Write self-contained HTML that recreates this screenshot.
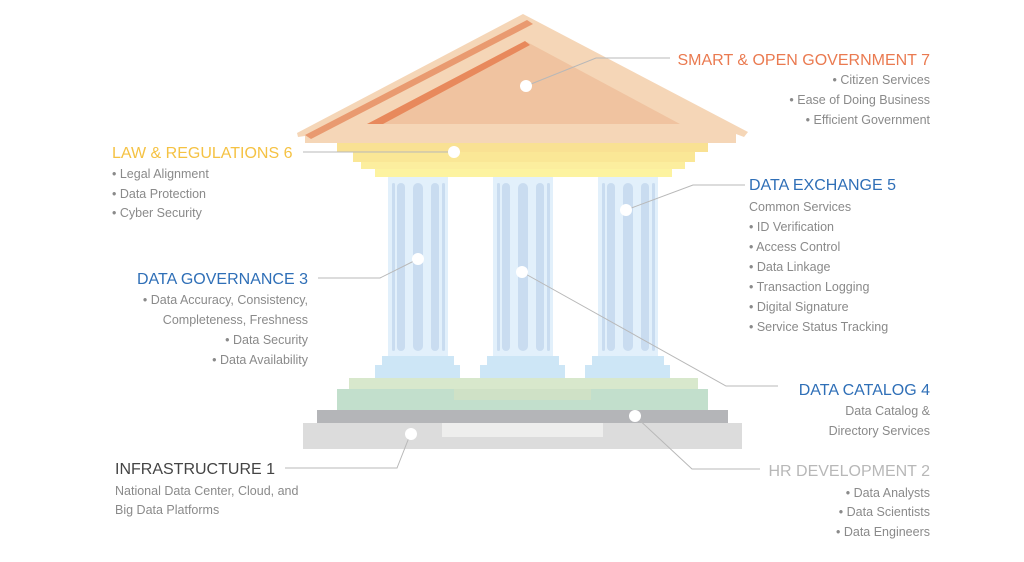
<!DOCTYPE html>
<html><head><meta charset="utf-8"><style>
html,body{margin:0;padding:0;background:#fff;}
svg{display:block;font-family:"Liberation Sans",sans-serif;}
.b{font-size:12.5px;fill:#8a8a8a;}
.h{font-size:16px;}
</style></head><body>
<svg width="1024" height="562" viewBox="0 0 1024 562" xmlns="http://www.w3.org/2000/svg">
<!-- base -->
<rect x="303" y="423" width="439" height="26" fill="#dcdcdc"/>
<rect x="442" y="423" width="161" height="14" fill="#eeeeed"/>
<rect x="317" y="410" width="411" height="13" fill="#b4b5b8"/>
<rect x="337" y="389" width="371" height="21" fill="#c2dfcc"/>
<rect x="454" y="389" width="137" height="11" fill="#cfe1c6"/>
<rect x="349" y="378" width="349" height="11" fill="#d8e8cc"/>
<!-- columns -->
<g id="c">
<rect x="388" y="176" width="60" height="180" fill="#e2f0fb"/>
<rect x="392" y="183" width="3" height="168" rx="1.5" fill="#c9dcf0"/>
<rect x="397" y="183" width="8" height="168" rx="4" fill="#c9dcf0"/>
<rect x="413" y="183" width="10" height="168" rx="5" fill="#c9dcf0"/>
<rect x="431" y="183" width="8" height="168" rx="4" fill="#c9dcf0"/>
<rect x="442" y="183" width="3" height="168" rx="1.5" fill="#c9dcf0"/>
<rect x="382" y="356" width="72" height="9" fill="#cde6f6"/>
<rect x="375" y="365" width="85" height="13" fill="#cde6f6"/>
</g>
<use href="#c" x="105"/>
<use href="#c" x="210"/>
<!-- entablature -->
<rect x="375" y="169" width="297" height="8" fill="#fdf3a0"/>
<rect x="361" y="162" width="324" height="7" fill="#fcee9e"/>
<rect x="353" y="152" width="342" height="10" fill="#fae796"/>
<rect x="337" y="143" width="371" height="9" fill="#f9e193"/>
<!-- roof -->
<polygon points="523,14 748,132 744,137 736,134 736,143 305,143 305,136 298,137 297,133" fill="#f5d6b7"/>
<polygon points="527,42 680,124 367,124" fill="#f0c3a0"/>
<polygon points="527,20 533,24 311,139 305,135" fill="#e99a70"/>
<polygon points="525,41 530,45 383,124 367,124" fill="#e8895c"/>
<!-- connectors -->
<g stroke="#b8b8b8" stroke-width="1" fill="none">
<polyline points="526,86 596,58 670,58"/>
<polyline points="303,152 454,152"/>
<polyline points="626,210 693,185 745,185"/>
<polyline points="318,278 380,278 418,259"/>
<polyline points="522,272 726,386 778,386"/>
<polyline points="285,468 397,468 410,435"/>
<polyline points="635,416 692,469 760,469"/>
</g>
<g fill="#fff">
<circle cx="526" cy="86" r="6"/><circle cx="454" cy="152" r="6"/><circle cx="626" cy="210" r="6"/>
<circle cx="418" cy="259" r="6"/><circle cx="522" cy="272" r="6"/><circle cx="411" cy="434" r="6"/><circle cx="635" cy="416" r="6"/>
</g>
<!-- texts -->
<g text-anchor="end">
<text class="h" x="930" y="65" fill="#ea7a50">SMART &amp; OPEN GOVERNMENT  7</text>
<text class="b" x="930" y="84">• Citizen Services</text>
<text class="b" x="930" y="104">• Ease of Doing Business</text>
<text class="b" x="930" y="124">• Efficient Government</text>
<text class="h" x="308" y="284" fill="#2f6fb7">DATA GOVERNANCE  3</text>
<text class="b" x="308" y="304">• Data Accuracy, Consistency,</text>
<text class="b" x="308" y="324">Completeness, Freshness</text>
<text class="b" x="308" y="344">• Data Security</text>
<text class="b" x="308" y="364">• Data Availability</text>
<text class="h" x="930" y="395" fill="#2f6fb7">DATA  CATALOG  4</text>
<text class="b" x="930" y="415">Data Catalog &amp;</text>
<text class="b" x="930" y="435">Directory Services</text>
<text class="h" x="930" y="476" fill="#b8b8b8">HR DEVELOPMENT  2</text>
<text class="b" x="930" y="497">• Data Analysts</text>
<text class="b" x="930" y="516">• Data Scientists</text>
<text class="b" x="930" y="536">• Data Engineers</text>
</g>
<text class="h" x="112" y="158" fill="#f5c243">LAW &amp; REGULATIONS  6</text>
<text class="b" x="112" y="178">• Legal Alignment</text>
<text class="b" x="112" y="198">• Data Protection</text>
<text class="b" x="112" y="217">• Cyber Security</text>
<text class="h" x="749" y="190" fill="#2f6fb7">DATA  EXCHANGE  5</text>
<text class="b" x="749" y="211">Common Services</text>
<text class="b" x="749" y="231">• ID Verification</text>
<text class="b" x="749" y="251">• Access Control</text>
<text class="b" x="749" y="271">• Data Linkage</text>
<text class="b" x="749" y="291">• Transaction Logging</text>
<text class="b" x="749" y="311">• Digital Signature</text>
<text class="b" x="749" y="331">• Service Status Tracking</text>
<text class="h" x="115" y="474" fill="#444">INFRASTRUCTURE  1</text>
<text class="b" x="115" y="495">National Data Center, Cloud, and</text>
<text class="b" x="115" y="514">Big Data Platforms</text>
</svg>
</body></html>
